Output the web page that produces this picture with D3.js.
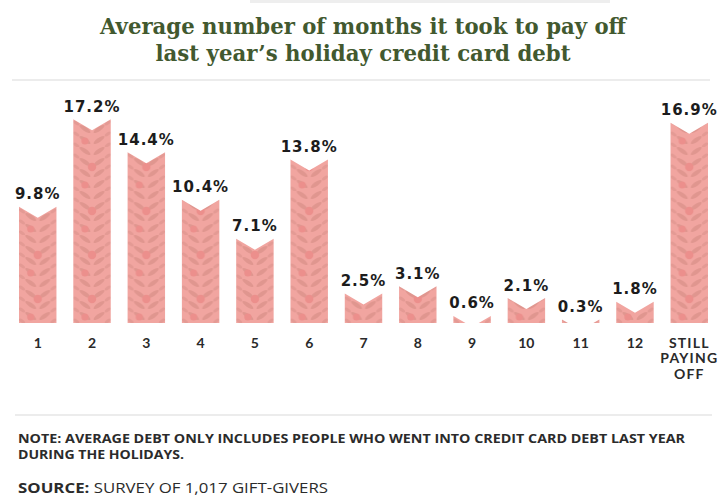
<!DOCTYPE html>
<html>
<head>
<meta charset="utf-8">
<script src="https://cdn.jsdelivr.net/npm/d3@7"></script>
<style>
  body { margin: 0; background: #fff; }
  svg { display: block; }
</style>
</head>
<body>
<div id="chart"></div>
<script>
// values
var months = ["1", "2", "3", "4", "5", "6", "7", "8", "9", "10", "11", "12", "STILL PAYING OFF"];
var shares = [9.8, 17.2, 14.4, 10.4, 7.1, 13.8, 2.5, 3.1, 0.6, 2.1, 0.3, 1.8, 16.9];
var titleLines = ["Average number of months it took to pay off", "last year\u2019s holiday credit card debt"];
var noteLines = ["NOTE: AVERAGE DEBT ONLY INCLUDES PEOPLE WHO WENT INTO CREDIT CARD DEBT LAST YEAR", "DURING THE HOLIDAYS."];
var sourceLabel = "SOURCE:";
var sourceText = " SURVEY OF 1,017 GIFT-GIVERS";

var w = 723;
var h = 496;
var base = 323;
var notch = 11;

var svg = d3.select("#chart")
    .append("svg")
    .attr("width", w)
    .attr("height", h);

var x = d3.scaleBand()
    .domain(months)
    .range([19, 708])
    .paddingInner(0.31)
    .paddingOuter(0);

var y = d3.scaleLinear()
    .domain([0, 20])
    .range([base, base - 237]);

// faint divider lines
svg.append("rect").attr("x", 250).attr("y", 0).attr("width", 360).attr("height", 3).attr("fill", "#eeeeee");
svg.append("line").attr("x1", 12).attr("x2", 710).attr("y1", 80).attr("y2", 80)
    .attr("stroke", "#ececec").attr("stroke-width", 2);
svg.append("line").attr("x1", 15).attr("x2", 712).attr("y1", 415).attr("y2", 415)
    .attr("stroke", "#ececec").attr("stroke-width", 2);

// title
svg.selectAll(".title")
    .data(titleLines)
    .enter()
    .append("text")
    .attr("class", "title")
    .attr("x", 363)
    .attr("y", function (d, i) { return 34 + i * 27; })
    .attr("text-anchor", "middle")
    .attr("textLength", function (d, i) { return i == 0 ? 526 : 415; })
    .attr("lengthAdjust", "spacingAndGlyphs")
    .style("font-family", "'DejaVu Serif', serif")
    .style("font-weight", "bold")
    .style("font-size", "22px")
    .style("fill", "#42592f")
    .text(function (d) { return d; });

// leafy pattern for the bars
var defs = svg.append("defs");
var bw = x.bandwidth();
var cx = bw / 2;
var pat = defs.append("pattern")
    .attr("id", "leaves")
    .attr("patternUnits", "userSpaceOnUse")
    .attr("x", x(months[0]))
    .attr("y", base)
    .attr("width", x.step())
    .attr("height", 44);

pat.append("rect").attr("width", x.step()).attr("height", 44).attr("fill", "#f1a5a0");
for (var r = 0; r < 4; r++) {
    var ly = 4 + r * 11;
    pat.append("ellipse").attr("cx", cx - 7).attr("cy", ly).attr("rx", 6.5).attr("ry", 2.1)
        .attr("transform", "rotate(35," + (cx - 7) + "," + ly + ")").attr("fill", "#e0968f");
    pat.append("ellipse").attr("cx", cx + 7).attr("cy", ly).attr("rx", 6.5).attr("ry", 2.1)
        .attr("transform", "rotate(-35," + (cx + 7) + "," + ly + ")").attr("fill", "#e0968f");
    pat.append("ellipse").attr("cx", 3).attr("cy", ly + 5).attr("rx", 3.5).attr("ry", 1.6)
        .attr("transform", "rotate(35,3," + (ly + 5) + ")").attr("fill", "#e49a94");
    pat.append("ellipse").attr("cx", bw - 3).attr("cy", ly + 5).attr("rx", 3.5).attr("ry", 1.6)
        .attr("transform", "rotate(-35," + (bw - 3) + "," + (ly + 5) + ")").attr("fill", "#e49a94");
}
pat.append("circle").attr("cx", cx).attr("cy", 20).attr("r", 4.2).attr("fill", "#ec8f8c");
pat.append("circle").attr("cx", cx - 7).attr("cy", 38).attr("r", 3.6).attr("fill", "#ec8f8c");

defs.append("clipPath")
    .attr("id", "above-base")
    .append("rect")
    .attr("x", 0).attr("y", 0).attr("width", w).attr("height", base);

// bars with a v-notch cut into the top
var bars = svg.append("g").attr("clip-path", "url(#above-base)");

bars.selectAll("path")
    .data(shares)
    .enter()
    .append("path")
    .attr("d", function (d, i) {
        var x0 = x(months[i]);
        var x1 = x0 + bw;
        var top = y(d);
        return "M" + x0 + "," + top +
            "L" + (x0 + bw / 2) + "," + (top + notch) +
            "L" + x1 + "," + top +
            "L" + x1 + "," + base +
            "L" + x0 + "," + base + "Z";
    })
    .attr("fill", "url(#leaves)");

// value labels
svg.selectAll(".val")
    .data(shares)
    .enter()
    .append("text")
    .attr("class", "val")
    .attr("x", function (d, i) { return x(months[i]) + bw / 2; })
    .attr("y", function (d) { return y(d) - 7.5; })
    .attr("text-anchor", "middle")
    .style("font-family", "'DejaVu Sans', sans-serif")
    .style("font-weight", "bold")
    .style("font-size", "15px")
    .style("letter-spacing", "1px")
    .style("fill", "#1c1c1c")
    .text(function (d) { return d.toFixed(1) + "%"; });

// category labels
var cats = svg.selectAll(".cat")
    .data(months)
    .enter()
    .append("text")
    .attr("class", "cat")
    .attr("x", function (d) { return x(d) + bw / 2; })
    .attr("y", 348)
    .attr("text-anchor", "middle")
    .style("font-family", "Lato, sans-serif")
    .style("font-weight", "bold")
    .style("font-size", "14px")
    .style("letter-spacing", function (d) { return d.length > 2 ? "1.2px" : "0px"; })
    .style("fill", "#2a2a2a");

cats.each(function (d) {
    var words = d.split(" ");
    var t = d3.select(this);
    words.forEach(function (word, k) {
        t.append("tspan")
            .attr("x", x(d) + bw / 2)
            .attr("dy", k == 0 ? 0 : 15.3)
            .text(word);
    });
});

// note lines and source
svg.selectAll(".note")
    .data(noteLines)
    .enter()
    .append("text")
    .attr("class", "note")
    .attr("x", 18)
    .attr("y", function (d, i) { return 442.5 + i * 16.5; })
    .attr("textLength", function (d, i) { return i == 0 ? 667 : 166; })
    .attr("lengthAdjust", "spacingAndGlyphs")
    .style("font-family", "'Open Sans', sans-serif")
    .style("font-weight", "bold")
    .style("font-size", "12px")
    .style("fill", "#2b2b2b")
    .text(function (d) { return d; });

var src = svg.append("text")
    .attr("x", 18)
    .attr("y", 493)
    .attr("textLength", 310)
    .attr("lengthAdjust", "spacingAndGlyphs")
    .style("font-family", "'Open Sans', sans-serif")
    .style("font-size", "15px")
    .style("fill", "#2b2b2b");
src.append("tspan").style("font-weight", "bold").text(sourceLabel);
src.append("tspan").style("font-weight", "normal").text(sourceText);
</script>
</body>
</html>
